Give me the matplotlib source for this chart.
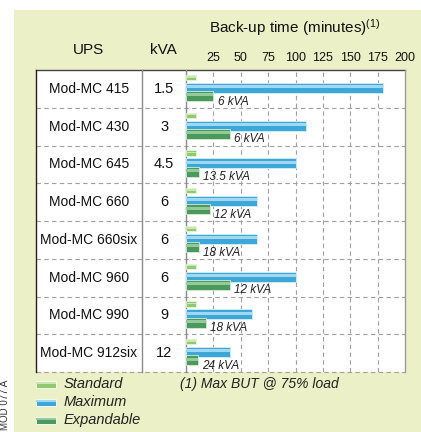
import numpy as np
import matplotlib.pyplot as plt
from matplotlib.patches import Rectangle
from matplotlib.lines import Line2D
from matplotlib.transforms import blended_transform_factory

plt.rcParams['font.family'] = ['Liberation Sans', 'DejaVu Sans']
plt.rcParams['mathtext.default'] = 'regular'

ups = ['Mod-MC 415', 'Mod-MC 430', 'Mod-MC 645', 'Mod-MC 660',
       'Mod-MC 660six', 'Mod-MC 960', 'Mod-MC 990', 'Mod-MC 912six']
kva = ['1.5', '3', '4.5', '6', '6', '6', '9', '12']
standard = [9, 9, 9, 9, 9, 9, 9, 9]
maximum = [180, 110, 100, 65, 65, 100, 60, 40]
expandable = [25, 40, 12, 22, 12, 40, 18, 11]
exp_labels = ['6 kVA', '6 kVA', '13.5 kVA', '12 kVA', '18 kVA', '12 kVA', '18 kVA', '24 kVA']
ticks = [25, 50, 75, 100, 125, 150, 175, 200]

W, H = 421, 432
fig = plt.figure(figsize=(W / 100, H / 100), dpi=100)
fig.patch.set_facecolor('white')
fig.patches.append(Rectangle((14 / W, 0), 1 - 14 / W, 1 - 10 / H, transform=fig.transFigure,
                             facecolor='#ebf0c7', edgecolor='none', zorder=-10))

ax = fig.add_axes([186 / W, 60 / H, 219 / W, 302 / H])
ax.set_xlim(0, 200)
ax.set_ylim(8, 0)
ax.set_facecolor('white')
for s in ax.spines.values():
    s.set_visible(False)

tr = blended_transform_factory(ax.transAxes, ax.transData)
left = -0.685

# white background behind the text columns
ax.add_patch(Rectangle((left, 0), -left, 1, transform=ax.transAxes, facecolor='white',
                       edgecolor='none', clip_on=False, zorder=0))

# grid
for t in ticks[:-1]:
    ax.axvline(t, color='#a0a0a0', lw=0.8, ls=(0, (4, 3)), zorder=1)
for i in range(1, 9):
    ax.add_line(Line2D([left, 1], [i, i], transform=tr, color='#a0a0a0', lw=0.8,
                       ls=(0, (4, 3)), clip_on=False, zorder=1))
ax.add_line(Line2D([left, 1], [0, 0], transform=tr, color='#444444', lw=1.0, clip_on=False, zorder=3))
ax.add_line(Line2D([left, left], [0, 8], transform=tr, color='#222222', lw=1.0, clip_on=False, zorder=3))
ax.add_line(Line2D([1, 1], [0, 8], transform=tr, color='#9a9a9a', lw=1.0, clip_on=False, zorder=3))
for xd in (-0.201, 0):
    ax.add_line(Line2D([xd, xd], [0, 8], transform=tr, color='#8a8a8a', lw=1.0, clip_on=False, zorder=3))

y = np.arange(len(ups))


def cyl(vals, off, h, col, light, edge):
    ax.barh(y + off, vals, height=h, left=0, color=col, edgecolor=edge, lw=0.6, zorder=4)
    ax.barh(y + off - h * 0.12, vals, height=h * 0.3, left=0, color=light, lw=0, zorder=5)


cyl(standard, 0.2, 0.14, '#8fcb6e', '#c9e8ae', '#e8f5dc')
cyl(maximum, 0.475, 0.265, '#3da7d8', '#9fd8f0', '#d5effa')
cyl(expandable, 0.69, 0.265, '#4b9a5c', '#94c99c', '#d7ecd9')

for i in range(len(ups)):
    ax.annotate(exp_labels[i], (expandable[i], i + 0.84), xytext=(3, 0), textcoords='offset points',
                ha='left', va='center', fontsize=8.5, style='italic', color='#222222', zorder=6)
    ax.text(-0.443, i + 0.5, ups[i], transform=tr, ha='center', va='center', fontsize=10, color='#111111')
    ax.text(-0.10, i + 0.5, kva[i], transform=tr, ha='center', va='center', fontsize=10.5, color='#111111')

ax.set_xticks(ticks)
ax.set_xticklabels([str(t) for t in ticks])
ax.xaxis.tick_top()
ax.tick_params(axis='x', length=0, pad=4, labelsize=9, labelcolor='#111111')
ax.set_yticks([])

# headers
fig.text(89 / W, 1 - 50 / H, 'UPS', ha='center', va='center', fontsize=11, color='#111111')
fig.text(163 / W, 1 - 50 / H, 'kVA', ha='center', va='center', fontsize=11, color='#111111')
fig.text(295 / W, 1 - 28 / H, 'Back-up time (minutes)$^{(1)}$', ha='center', va='center',
         fontsize=11, color='#111111')

# legend
leg = [('Standard', '#8fcb6e', '#c9e8ae'), ('Maximum', '#3da7d8', '#9fd8f0'),
       ('Expandable', '#4b9a5c', '#94c99c')]
for k, (name, col, light) in enumerate(leg):
    yc = 384 + 18 * k
    fig.patches.append(Rectangle((36 / W, 1 - (yc + 3.5) / H), 20 / W, 7 / H, transform=fig.transFigure,
                                 facecolor=col, edgecolor='white', lw=0.6))
    fig.patches.append(Rectangle((36 / W, 1 - (yc - 0.5) / H), 20 / W, 2 / H, transform=fig.transFigure,
                                 facecolor=light, edgecolor='none'))
    fig.text(64 / W, 1 - yc / H, name, ha='left', va='center', fontsize=10.5, style='italic', color='#222222')

fig.text(180 / W, 1 - 384 / H, '(1) Max BUT @ 75% load', ha='left', va='center', fontsize=10,
         style='italic', color='#222222')
fig.text(5 / W, 1 - 405 / H, 'MOD 077 A', ha='center', va='center', rotation=90, fontsize=7, color='#333333')

fig.savefig('out.png', dpi=100)
